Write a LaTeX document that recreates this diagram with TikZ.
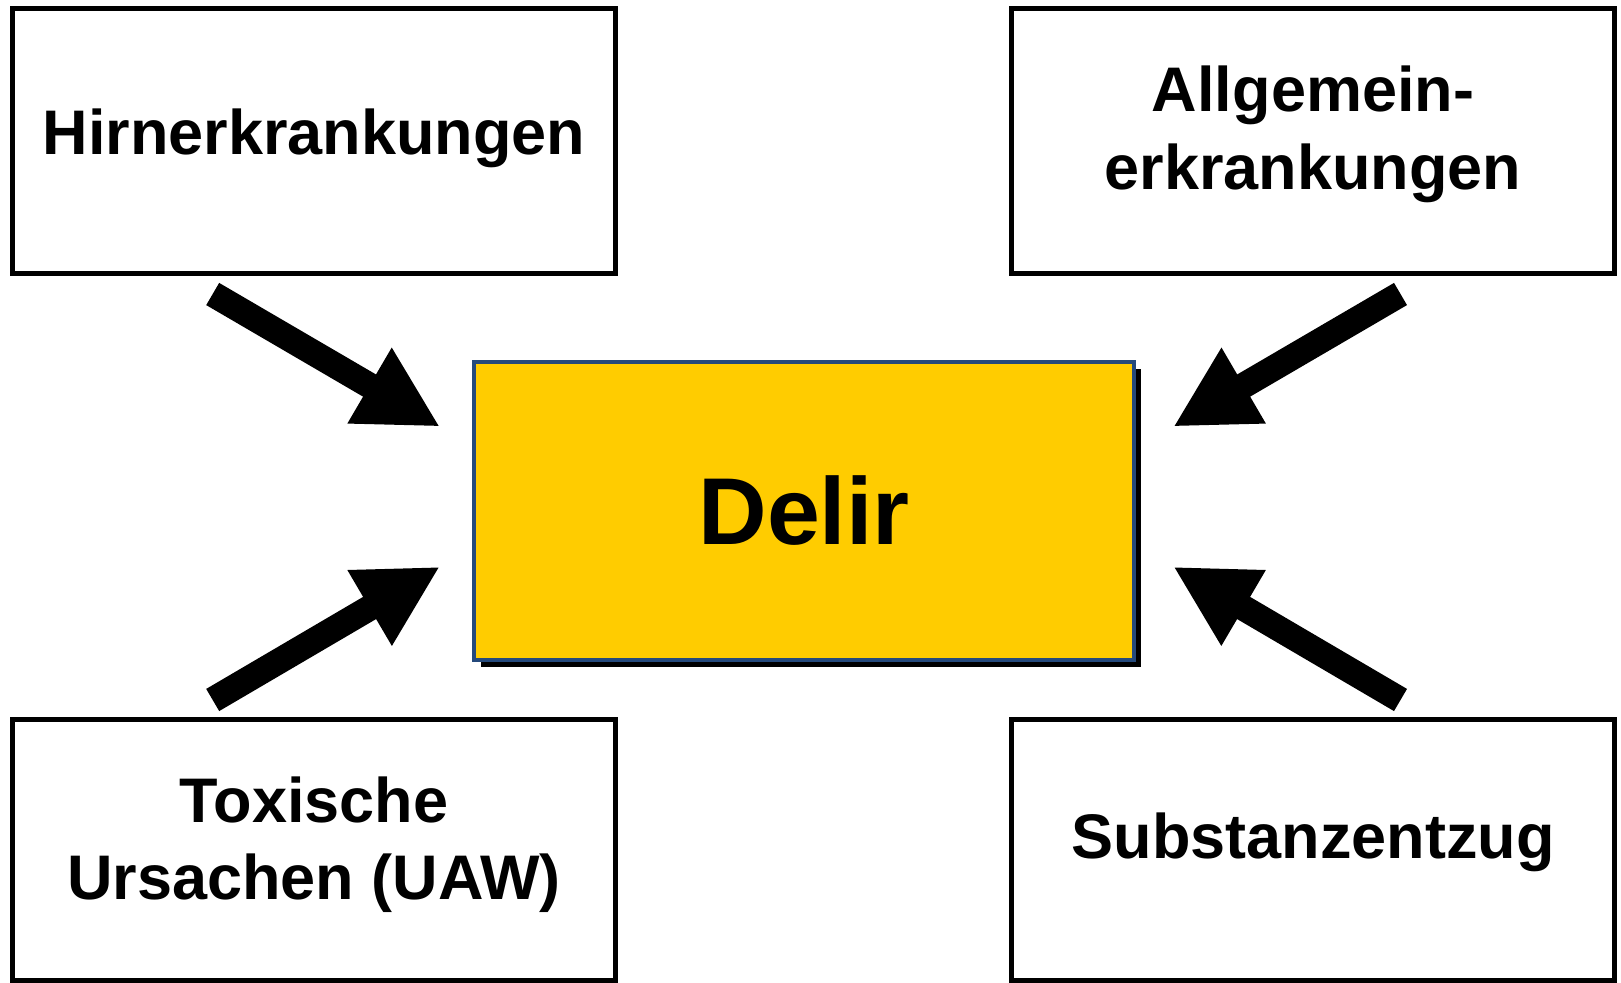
\documentclass[tikz,border=0pt]{standalone}
\usepackage{fontspec}
\setmainfont{Liberation Sans}
\usetikzlibrary{arrows.meta}
\definecolor{delirfill}{RGB}{255,204,0}
\definecolor{delirline}{RGB}{37,74,124}
\begin{document}
\begin{tikzpicture}[x=0.5pt,y=-0.5pt,
  causebox/.style={draw=black, line width=2.5pt, fill=white, minimum width=301.5pt, minimum height=132.5pt, inner sep=0pt},
  causebottom/.style={causebox, minimum height=130.75pt},
  causetext/.style={font=\bfseries\fontsize{31.5}{38.75}\selectfont, align=center, inner sep=0pt},
  bigarrow/.style={line width=12.85pt, line cap=butt, -{Triangle[length=40.8pt,width=40.8pt]}}
]
\useasboundingbox (0,0) rectangle (1621,983);
% cause boxes
\node[causebox] (tl) at (314,141) {};
\node[causebox] (tr) at (1313,141) {};
\node[causebottom] (bl) at (314,849.75) {};
\node[causebottom] (br) at (1313,849.75) {};
% texts
\node[causetext, anchor=base] (tlt) at (314,155) {Hirnerkrankungen};
\node[causetext] (trt) at (1313,134.3) {Allgemein-\\erkrankungen};
\node[causetext] (blt) at (314,844.8) {Toxische\\Ursachen (UAW)};
\node[causetext, anchor=base] (brt) at (1313,858) {Substanzentzug};
% center box with shadow
\node[fill=black, minimum width=330pt, minimum height=149pt, inner sep=0pt] (shadow) at (811,518) {};
\node[draw=delirline, line width=2pt, fill=delirfill, minimum width=330pt, minimum height=149pt, inner sep=0pt] (delir) at (804,511) {};
\node[font=\bfseries\fontsize{47.5}{57}\selectfont, anchor=base, inner sep=0pt] (delirt) at (804,545) {Delir};
% arrow ends
\coordinate (a1s) at (212.7,294);   \coordinate (a1e) at (440,426.7);
\coordinate (a2s) at (1400.5,294);  \coordinate (a2e) at (1173.2,426.7);
\coordinate (a3s) at (212.7,700);   \coordinate (a3e) at (440,566.7);
\coordinate (a4s) at (1400.5,700);  \coordinate (a4e) at (1173.2,566.7);
\draw[bigarrow] (a1s) -- (a1e);
\draw[bigarrow] (a2s) -- (a2e);
\draw[bigarrow] (a3s) -- (a3e);
\draw[bigarrow] (a4s) -- (a4e);
\end{tikzpicture}
\end{document}
